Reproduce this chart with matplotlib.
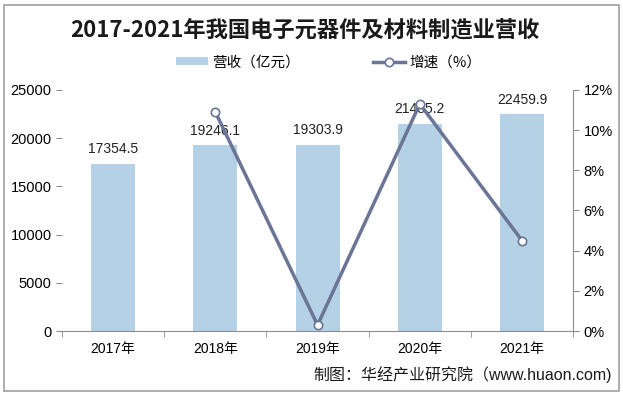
import matplotlib.pyplot as plt
from matplotlib.patches import Rectangle
import numpy as np

plt.rcParams['font.family'] = ['Liberation Sans', 'Noto Sans CJK SC', 'DejaVu Sans']

years = ['2017年', '2018年', '2019年', '2020年', '2021年']
revenue = [17354.5, 19246.1, 19303.9, 21485.2, 22459.9]
growth_years = [1, 2, 3, 4]
growth = [10.9, 0.3, 11.3, 4.5]

bar_color = '#b5d1e5'
line_color = '#6b7596'
axis_color = '#8c8c8c'

fig = plt.figure(figsize=(6.23, 3.96), dpi=100)
fig.patches.append(Rectangle((0.006, 0.012), 0.988, 0.976, transform=fig.transFigure,
                             fill=False, edgecolor='#a0a0a0', linewidth=1.2))

ax = fig.add_axes([0.0995, 0.164, 0.8205, 0.609])
x = np.arange(len(years))
ax.bar(x, revenue, width=0.43, color=bar_color, label='营收（亿元）', zorder=2)
for xi, v in zip(x, revenue):
    ax.text(xi, v + 800, f'{v:.1f}', ha='center', va='bottom', fontsize=10, color='#222222',
            zorder=5)

ax.set_ylim(0, 25000)
ax.set_yticks(range(0, 25001, 5000))
ax.set_xlim(-0.5, 4.5)
ax.set_xticks(x)
ax.set_xticklabels(years, fontsize=10)
ax.set_xticks(np.arange(-0.5, 5, 1), minor=True)
ax.tick_params(axis='x', which='major', length=0, pad=8)
ax.tick_params(axis='x', which='minor', length=4, color=axis_color)
ax.tick_params(axis='y', labelsize=10.5, length=4, color=axis_color)
for s in ['top', 'left', 'right']:
    ax.spines[s].set_visible(False)
ax.spines['bottom'].set_color(axis_color)

ax2 = ax.twinx()
ax2.plot(growth_years, growth, color=line_color, linewidth=2.5, marker='o', markersize=6,
         markerfacecolor='white', markeredgecolor=line_color, markeredgewidth=1.2,
         label='增速（%）', zorder=4)
ax2.set_ylim(0, 12)
ax2.set_yticks(range(0, 13, 2))
ax2.set_yticklabels([f'{v}%' for v in range(0, 13, 2)])
ax2.tick_params(axis='y', labelsize=10.5, length=4, color=axis_color)
for s in ['top', 'left', 'bottom']:
    ax2.spines[s].set_visible(False)
ax2.spines['right'].set_color(axis_color)

fig.text(0.49, 0.925, '2017-2021年我国电子元器件及材料制造业营收', ha='center', va='center',
         fontsize=16, fontweight='bold', color='#1a1a1a', family='Noto Sans CJK SC')

h1, l1 = ax.get_legend_handles_labels()
h2, l2 = ax2.get_legend_handles_labels()
fig.legend(h1 + h2, l1 + l2, loc='center', bbox_to_anchor=(0.527, 0.843), ncol=2, frameon=False,
           handlelength=2.2, columnspacing=5, handleheight=0.45,
           handletextpad=0.3, prop={'family': 'Noto Sans CJK SC', 'size': 10.5})

fig.text(0.982, 0.055, '制图：华经产业研究院（www.huaon.com)', ha='right', va='center',
         fontsize=11.5, color='#1a1a1a')

fig.savefig('out.png', dpi=100)
